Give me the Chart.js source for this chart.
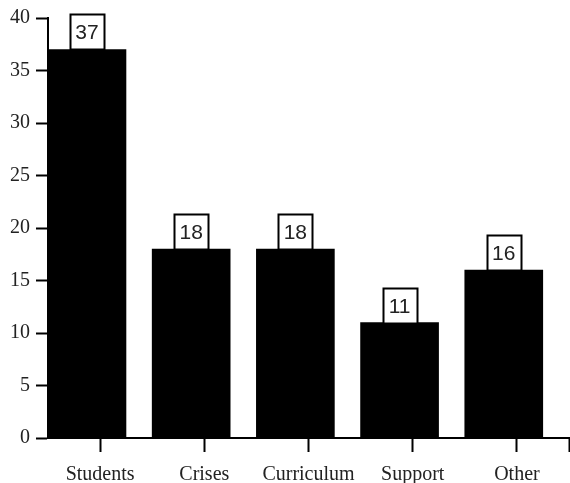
<!DOCTYPE html>
<html lang="en">
<head>
  <meta charset="UTF-8" />
  <title>Counts</title>
  <script src="https://cdn.jsdelivr.net/npm/chart.js"></script>
  <style>
    body {
      margin: 0;
      background: #ffffff;
      overflow: hidden;
    }
    .container {
      width: 570px;
      height: 483px;
    }
  </style>
</head>
<body>
  <div class="container">
    <canvas id="countChart"></canvas>
  </div>

  <script>
    const categories = ['Students', 'Crises', 'Curriculum', 'Support', 'Other'];
    const counts = [37, 18, 18, 11, 16];
    const yTicks = [0, 5, 10, 15, 20, 25, 30, 35, 40];

    // bars sit in the left part of each category slot
    const barShift = -0.126;

    // white boxes with the value above each bar
    const valueBoxes = {
      id: 'valueBoxes',
      afterDatasetsDraw(chart) {
        const ctx = chart.ctx;
        const meta = chart.getDatasetMeta(0);
        ctx.save();
        meta.data.forEach((bar, i) => {
          const w = 34, h = 35;
          const left = Math.round(bar.x - w / 2) + 0.5;
          const top = Math.round(bar.y - h) + 0.5;
          ctx.fillStyle = '#ffffff';
          ctx.fillRect(left, top, w, h);
          ctx.strokeStyle = '#000000';
          ctx.lineWidth = 2;
          ctx.strokeRect(left, top, w, h);
          ctx.fillStyle = '#222222';
          ctx.font = '21px "Liberation Sans", Arial, sans-serif';
          ctx.textAlign = 'center';
          ctx.textBaseline = 'middle';
          ctx.fillText(String(counts[i]), bar.x, top + h / 2 + 1);
        });
        ctx.restore();
      }
    };

    new Chart(document.getElementById('countChart').getContext('2d'), {
      type: 'bar',
      data: {
        datasets: [{
          data: counts.map((v, i) => ({ x: i + barShift, y: v })),
          backgroundColor: '#000000',
          borderWidth: 0,
          barThickness: 78
        }]
      },
      options: {
        responsive: true,
        maintainAspectRatio: false,
        animation: false,
        layout: { padding: { top: 18, right: 1, left: 0, bottom: 0 } },
        plugins: {
          legend: { display: false },
          tooltip: { enabled: false }
        },
        scales: {
          x: {
            type: 'linear',
            offset: false,
            min: -0.5,
            max: categories.length - 0.5,
            afterBuildTicks: s => {
              s.ticks = categories.map((_, i) => ({ value: i }))
                .concat([{ value: categories.length - 0.5 }]);
            },
            afterFit: s => {
              s.height = 45;
              s.paddingLeft = 0;
              s.paddingRight = 0;
            },
            border: { display: true, color: '#000000', width: 2 },
            grid: {
              offset: false,
              drawOnChartArea: false,
              drawTicks: true,
              tickLength: 14,
              tickWidth: 2,
              tickColor: '#000000'
            },
            ticks: {
              autoSkip: false,
              maxRotation: 0,
              padding: 11,
              color: '#222222',
              font: { family: '"Liberation Serif", serif', size: 20 },
              callback: v => Number.isInteger(v) ? categories[v] : ''
            }
          },
          y: {
            min: 0,
            max: 40,
            afterBuildTicks: s => { s.ticks = yTicks.map(v => ({ value: v })); },
            afterFit: s => { s.width = 48; },
            border: { display: true, color: '#000000', width: 2 },
            grid: {
              drawOnChartArea: false,
              drawTicks: true,
              tickLength: 12,
              tickWidth: 2,
              tickColor: '#000000'
            },
            ticks: {
              padding: 6,
              color: '#222222',
              font: { family: '"Liberation Serif", serif', size: 20 }
            }
          }
        }
      },
      plugins: [valueBoxes]
    });
  </script>
</body>
</html>
